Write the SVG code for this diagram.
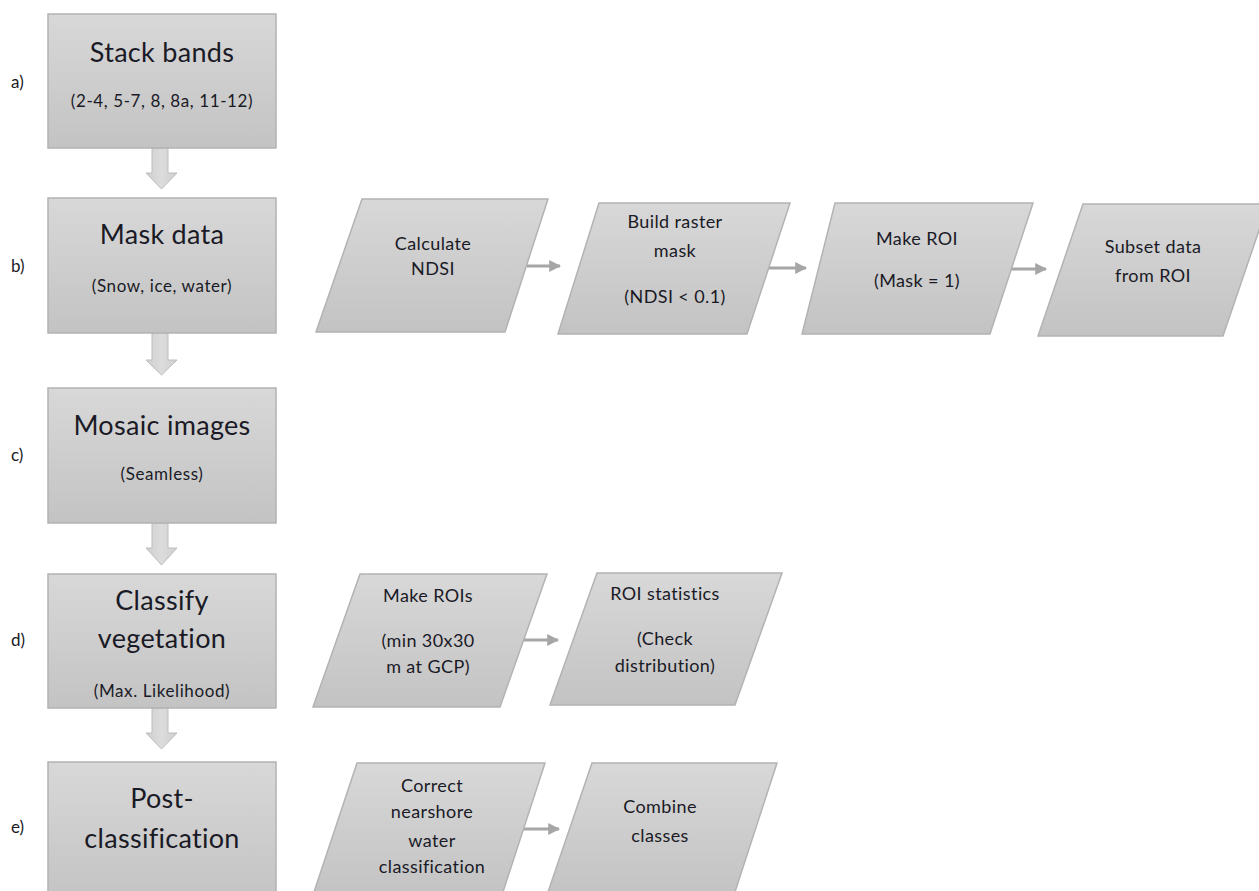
<svg xmlns="http://www.w3.org/2000/svg" width="1259" height="891" viewBox="0 0 1259 891">
<defs>
<linearGradient id="g" x1="0" y1="0" x2="0" y2="1">
<stop offset="0" stop-color="#d8d8d8"/>
<stop offset="1" stop-color="#c3c3c3"/>
</linearGradient>
<linearGradient id="ga" x1="0" y1="0" x2="1" y2="0">
<stop offset="0" stop-color="#cfcfcf"/>
<stop offset="0.5" stop-color="#dcdcdc"/>
<stop offset="1" stop-color="#cfcfcf"/>
</linearGradient>
<marker id="ah" viewBox="0 0 10 10" refX="9" refY="5" markerWidth="4" markerHeight="4" orient="auto">
<path d="M0,0 L10,5 L0,10 z" fill="#a6a6a6"/>
</marker>
</defs>
<style>
.box{fill:url(#g);stroke:#b3b3b3;stroke-width:1.5}
.t{font-family:Lato,"Liberation Sans",sans-serif;fill:#1a1a26;text-anchor:middle}
.big{font-size:27px;letter-spacing:0.3px}
.sm{font-size:17px;letter-spacing:0.6px}
.p{font-size:18px;letter-spacing:0.4px}
.lab{font-family:Lato,"Liberation Sans",sans-serif;font-size:17px;fill:#1a1a26}
.dn{fill:url(#ga);stroke:#bdbdbd;stroke-width:1}
.ln{stroke:#a6a6a6;stroke-width:3;fill:none}
</style>
<rect width="1259" height="891" fill="#ffffff"/>

<g id="labels">
<text class="lab" x="11" y="88">a)</text>
<text class="lab" x="11" y="272">b)</text>
<text class="lab" x="11" y="461">c)</text>
<text class="lab" x="11" y="646">d)</text>
<text class="lab" x="11" y="833">e)</text>
</g>

<g id="connectors">
<path class="dn" d="M152,148 H168 V173 H177 L161.5,189 L146,173 H152 Z"/>
<path class="dn" d="M152,333 H168 V360 H177 L161.5,375 L146,360 H152 Z"/>
<path class="dn" d="M152,523 H168 V548 H177 L161.5,565 L146,548 H152 Z"/>
<path class="dn" d="M152,708 H168 V733 H177 L161.5,749 L146,733 H152 Z"/>
<line class="ln" x1="527" y1="266" x2="560" y2="266" marker-end="url(#ah)"/>
<line class="ln" x1="768" y1="268" x2="806" y2="268" marker-end="url(#ah)"/>
<line class="ln" x1="1007" y1="269" x2="1046" y2="269" marker-end="url(#ah)"/>
<line class="ln" x1="522" y1="640" x2="558" y2="640" marker-end="url(#ah)"/>
<line class="ln" x1="522" y1="829" x2="559" y2="829" marker-end="url(#ah)"/>
</g>

<g id="stack">
<rect class="box" x="48" y="14" width="228" height="134"/>
<text class="t big" x="162" y="62">Stack bands</text>
<text class="t sm" x="162" y="107">(2-4, 5-7, 8, 8a, 11-12)</text>
</g>
<g id="mask">
<rect class="box" x="48" y="198" width="228" height="135"/>
<text class="t big" x="162" y="244">Mask data</text>
<text class="t sm" x="162" y="292">(Snow, ice, water)</text>
</g>
<g id="mosaic">
<rect class="box" x="48" y="388" width="228" height="135"/>
<text class="t big" x="162" y="435">Mosaic images</text>
<text class="t sm" x="162" y="480">(Seamless)</text>
</g>
<g id="classify">
<rect class="box" x="48" y="574" width="228" height="134"/>
<text class="t big" x="162" y="610">Classify</text>
<text class="t big" x="162" y="648">vegetation</text>
<text class="t sm" x="162" y="697">(Max. Likelihood)</text>
</g>
<g id="post">
<rect class="box" x="48" y="762" width="228" height="140"/>
<text class="t big" x="162" y="808">Post-</text>
<text class="t big" x="162" y="848">classification</text>
</g>

<g id="calc-ndsi">
<polygon class="box" points="362,199 548,199 505,332 316,332"/>
<text class="t p" x="433" y="250">Calculate</text>
<text class="t p" x="433" y="275">NDSI</text>
</g>
<g id="build-mask">
<polygon class="box" points="599,203 790,203 747,334 558,334"/>
<text class="t p" x="675" y="228">Build raster</text>
<text class="t p" x="675" y="257">mask</text>
<text class="t p" x="675" y="303">(NDSI &lt; 0.1)</text>
</g>
<g id="make-roi">
<polygon class="box" points="835,203 1033,203 990,334 802,334"/>
<text class="t p" x="917" y="245">Make ROI</text>
<text class="t p" x="917" y="287">(Mask = 1)</text>
</g>
<g id="subset">
<polygon class="box" points="1083,204 1268,204 1223,336 1038,336"/>
<text class="t p" x="1153" y="253">Subset data</text>
<text class="t p" x="1153" y="282">from ROI</text>
</g>
<g id="make-rois">
<polygon class="box" points="360,574 547,574 500,707 313,707"/>
<text class="t p" x="428" y="602">Make ROIs</text>
<text class="t p" x="428" y="647">(min 30x30</text>
<text class="t p" x="428" y="673">m at GCP)</text>
</g>
<g id="roi-stats">
<polygon class="box" points="597,573 782,573 735,705 550,705"/>
<text class="t p" x="665" y="600">ROI statistics</text>
<text class="t p" x="665" y="645">(Check</text>
<text class="t p" x="665" y="672">distribution)</text>
</g>
<g id="correct">
<polygon class="box" points="357,763 545,763 502,895 313,895"/>
<text class="t p" x="432" y="792">Correct</text>
<text class="t p" x="432" y="818">nearshore</text>
<text class="t p" x="432" y="847">water</text>
<text class="t p" x="432" y="873">classification</text>
</g>
<g id="combine">
<polygon class="box" points="592,763 777,763 734,895 547,895"/>
<text class="t p" x="660" y="813">Combine</text>
<text class="t p" x="660" y="842">classes</text>
</g>
</svg>
